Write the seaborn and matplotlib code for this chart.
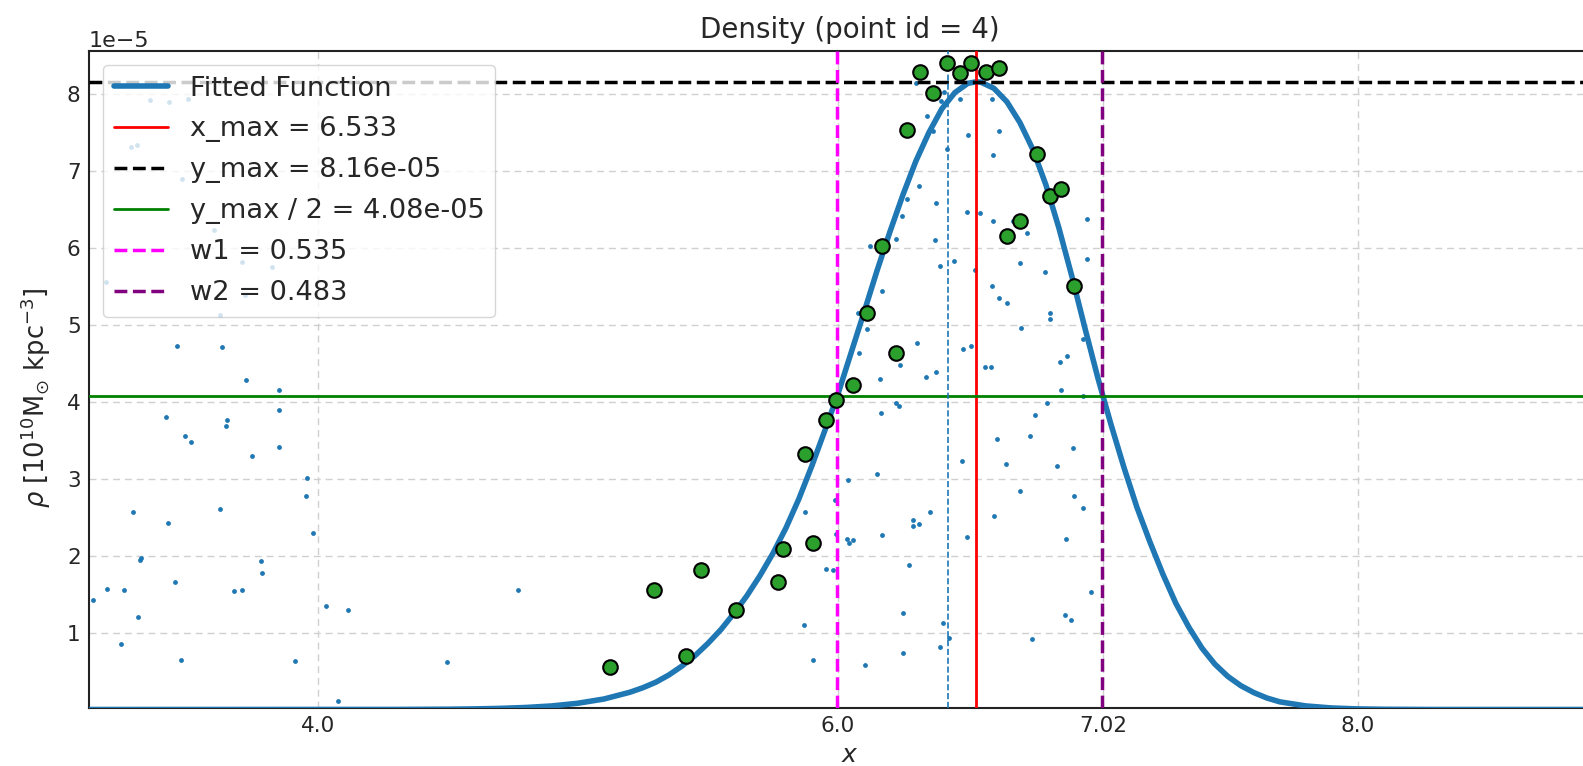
import numpy as np
import pandas as pd
import seaborn as sns
import matplotlib.pyplot as plt

# raw density samples (small blue dots), rho in units of 1e-5
raw_x = [3.354, 3.427, 3.500, 3.281, 3.304, 3.477, 3.600, 3.708, 3.823, 3.185, 3.719, 3.623,
         3.459, 3.630, 3.722, 3.849, 3.851, 3.415, 3.651, 3.646, 3.490, 3.512, 3.851, 3.746,
         3.957, 3.954, 3.982, 3.623, 3.422, 3.287, 3.318, 3.315, 3.781, 3.786, 3.188, 3.254,
         3.449, 3.677, 3.709, 3.136, 3.307, 4.030, 4.117, 3.242, 3.472, 3.913, 4.496, 4.076,
         4.770,
         6.300, 6.408, 6.395, 6.469, 6.593, 6.344, 6.367, 6.501, 6.619, 6.418, 6.596, 6.313,
         6.267, 6.379, 6.245, 6.497, 6.546, 6.596, 6.674, 6.726, 6.959, 6.224, 6.123, 6.375,
         6.392, 6.448, 6.528, 6.699, 6.795, 6.170, 6.593, 6.619, 6.650, 6.815, 6.815, 6.078,
         6.113, 6.703, 6.306, 6.081, 6.238, 6.482, 6.510, 6.567, 6.590, 6.853, 6.883, 6.941,
         6.379, 6.338, 6.162, 6.959,
         6.859, 6.943, 6.164, 6.222, 6.236, 6.804, 6.760, 6.613, 6.737, 6.903, 6.478, 6.647,
         6.841, 6.149, 6.037, 6.699, 6.909, 6.943, 5.988, 5.872, 6.354, 6.290, 6.287, 6.310,
         6.600, 6.170, 5.992, 6.033, 6.043, 6.059, 6.497, 6.879, 6.273, 5.953, 5.981, 6.972,
         6.251, 6.874, 6.898, 5.869, 6.403, 6.427, 6.746, 6.391, 6.249, 5.905, 6.105]
raw_y = [7.92, 7.90, 7.94, 7.31, 7.34, 6.90, 6.23, 5.82, 5.75, 5.56, 5.39, 5.13,
         4.73, 4.71, 4.28, 4.16, 3.89, 3.80, 3.77, 3.69, 3.55, 3.48, 3.41, 3.30,
         3.01, 2.78, 2.29, 2.61, 2.43, 2.57, 1.97, 1.94, 1.93, 1.77, 1.57, 1.56,
         1.66, 1.54, 1.56, 1.42, 1.20, 1.35, 1.29, 0.85, 0.65, 0.63, 0.62, 0.11,
         1.56,
         8.15, 8.03, 7.91, 7.94, 7.94, 7.71, 7.52, 7.47, 7.52, 7.29, 7.21, 6.81,
         6.64, 6.58, 6.41, 6.47, 6.46, 6.35, 6.35, 6.19, 6.38, 6.12, 6.03, 6.10,
         5.77, 5.83, 5.71, 5.81, 5.69, 5.44, 5.50, 5.35, 5.29, 5.16, 5.07, 5.16,
         4.94, 4.96, 4.77, 4.63, 4.48, 4.69, 4.73, 4.45, 4.45, 4.52, 4.60, 4.81,
         4.39, 4.32, 4.29, 5.86,
         4.15, 4.07, 3.86, 3.99, 3.95, 3.98, 3.83, 3.52, 3.55, 3.40, 3.23, 3.19,
         3.16, 3.06, 2.98, 2.84, 2.77, 2.62, 2.73, 2.57, 2.57, 2.46, 2.38, 2.41,
         2.52, 2.27, 2.28, 2.22, 2.17, 2.20, 2.24, 2.22, 1.88, 1.83, 1.81, 1.53,
         1.26, 1.23, 1.16, 1.10, 1.12, 0.93, 0.92, 0.81, 0.74, 0.65, 0.58]

# binned values (green circles)
bin_x = [6.315, 6.418, 6.469, 6.510, 6.569, 6.619, 6.367, 6.264, 6.767, 6.815,
         6.860, 6.700, 6.649, 6.908, 6.170, 6.110, 6.222, 6.059, 5.992, 5.953,
         5.873, 5.905, 5.790, 5.771, 5.607, 5.472, 5.294, 5.414, 5.123]
bin_y = [8.29, 8.41, 8.28, 8.40, 8.29, 8.34, 8.02, 7.53, 7.22, 6.68,
         6.76, 6.35, 6.16, 5.51, 6.02, 5.15, 4.63, 4.22, 4.03, 3.77,
         3.32, 2.16, 2.09, 1.66, 1.30, 1.82, 1.55, 0.70, 0.55]

# fitted function
fit_x = [3.12, 4.30, 4.50, 4.60, 4.70, 4.80, 4.90, 5.00, 5.10, 5.20, 5.25, 5.30,
         5.35, 5.40, 5.45, 5.50, 5.55, 5.60, 5.65, 5.70, 5.75, 5.80, 5.85, 5.90,
         5.95, 6.00, 6.05, 6.10, 6.15, 6.20, 6.25, 6.30, 6.35, 6.40, 6.45, 6.50,
         6.533, 6.55, 6.60, 6.65, 6.70, 6.75, 6.80, 6.85, 6.90, 6.95, 7.00, 7.05,
         7.10, 7.15, 7.20, 7.25, 7.30, 7.35, 7.40, 7.45, 7.50, 7.55, 7.60, 7.65,
         7.70, 7.80, 7.90, 8.00, 8.10, 8.30, 8.97]
fit_y = [0.000, 0.001, 0.004, 0.008, 0.015, 0.027, 0.047, 0.082, 0.137, 0.225, 0.284, 0.356,
         0.450, 0.565, 0.700, 0.860, 1.040, 1.250, 1.480, 1.740, 2.030, 2.360, 2.740, 3.170,
         3.630, 4.100, 4.630, 5.160, 5.700, 6.210, 6.690, 7.130, 7.500, 7.810, 8.020, 8.140,
         8.160, 8.155, 8.075, 7.900, 7.630, 7.280, 6.820, 6.260, 5.630, 4.960, 4.310, 3.710,
         3.150, 2.630, 2.180, 1.760, 1.380, 1.070, 0.800, 0.590, 0.430, 0.310, 0.220, 0.150,
         0.100, 0.047, 0.020, 0.008, 0.003, 0.000, 0.000]

x_max = 6.533
y_max = 8.16e-5
w1 = 0.535
w2 = 0.483
point_x = 6.423
xtick_vals = [4.0, 6.0, 7.02, 8.0]
xtick_labels = ["4.0", "6.0", "7.02", "8.0"]

scale = 1e-5
raw = pd.DataFrame({"x": raw_x, "rho": np.array(raw_y) * scale})
binned = pd.DataFrame({"x": bin_x, "rho": np.array(bin_y) * scale})
fit = pd.DataFrame({"x": fit_x, "rho": np.array(fit_y) * scale})

sns.set_style("white")
plt.rcParams["font.family"] = ["DejaVu Sans"]

fig = plt.figure(figsize=(15.83, 7.66), dpi=100)
ax = fig.add_axes([89 / 1583, 58 / 766, 1521 / 1583, 657 / 766])

sns.scatterplot(data=raw, x="x", y="rho", s=12, color="tab:blue", linewidth=0, ax=ax, zorder=2)
sns.lineplot(data=fit, x="x", y="rho", color="tab:blue", lw=4, ax=ax, zorder=3)
h_fit = ax.lines[-1]
h_fit.set_solid_joinstyle("round")
h_xmax = ax.axvline(x_max, color="red", lw=2, zorder=4)
h_ymax = ax.axhline(y_max, color="black", ls="--", lw=2.5, zorder=4)
h_half = ax.axhline(y_max / 2, color="green", lw=2, zorder=4)
h_w1 = ax.axvline(x_max - w1, color="magenta", ls="--", lw=2.5, zorder=4)
h_w2 = ax.axvline(x_max + w2, color="purple", ls="--", lw=2.5, zorder=4)
ax.axvline(point_x, color="tab:blue", ls="--", lw=1.2, zorder=4)
sns.scatterplot(data=binned, x="x", y="rho", s=110, color="tab:green",
                edgecolor="black", linewidth=1.5, ax=ax, zorder=5)

ax.set_xlim(3.119, 8.97)
ax.set_ylim(0.02e-5, 8.56e-5)
ax.set_xticks(xtick_vals)
ax.set_xticklabels(xtick_labels)
ax.grid(True, ls=(0, (5, 3.5)), color="#d0d0d0", lw=1)
ax.tick_params(direction="in", length=7, width=1.2, labelsize=15.5, pad=6)
ax.yaxis.get_offset_text().set_fontsize(16)
for s in ax.spines.values():
    s.set_linewidth(1.5)
    s.set_color("#222222")

ax.set_title("Density (point id = 4)", fontsize=20, pad=9)
ax.set_xlabel(r"$x$", fontsize=18, labelpad=5)
ax.set_ylabel(r"$\rho$ [$10^{10}$M$_{\odot}$ kpc$^{-3}$]", fontsize=18.5)
ax.yaxis.set_label_coords(-0.0235, 0.473)

ax.legend([h_fit, h_xmax, h_ymax, h_half, h_w1, h_w2],
          ["Fitted Function", f"x_max = {x_max}", "y_max = 8.16e-05",
           "y_max / 2 = 4.08e-05", f"w1 = {w1}", f"w2 = {w2}"],
          loc="upper left", fontsize=19.6, labelspacing=0.55)

fig.savefig("out.png", dpi=100)
